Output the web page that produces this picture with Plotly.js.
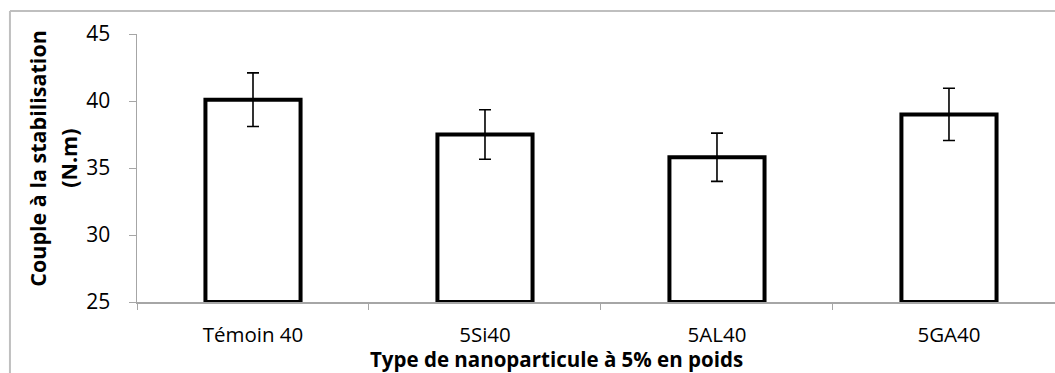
<!DOCTYPE html>
<html>
<head>
<meta charset="utf-8">
<script src="https://cdn.plot.ly/plotly-3.0.1.min.js"></script>
<style>
  html, body { margin: 0; padding: 0; background: #fff; overflow: hidden; }
  #chart { width: 1055px; height: 373px; }
</style>
</head>
<body>
<div id="chart"></div>
<script>
// Torque at stabilisation per nanoparticle type (5 wt%)
const categories = ["Témoin 40", "5Si40", "5AL40", "5GA40"];
const torque = [40.1, 37.5, 35.8, 39.0];
const torqueError = [2.0, 1.85, 1.8, 1.95];
const yTicks = [25, 30, 35, 40, 45];
const axisFloor = 25;

const trace = {
  type: "bar",
  x: categories,
  base: axisFloor,
  y: torque.map(v => v - axisFloor),
  marker: { color: "#ffffff", line: { color: "#000000", width: 4 } },
  error_y: { type: "data", array: torqueError, visible: true,
             color: "#000000", thickness: 1.6, width: 6 },
  hoverinfo: "skip"
};

const font = "'Open Sans', 'Noto Sans', sans-serif";
const frameLine = { color: "#bfbfbf", width: 2 };

const layout = {
  width: 1055, height: 373,
  margin: { l: 137, r: 0, t: 34, b: 71 },
  paper_bgcolor: "#ffffff", plot_bgcolor: "#ffffff",
  showlegend: false,
  bargap: 0.59,
  font: { family: font, color: "#000000", size: 21 },
  xaxis: {
    type: "category",
    range: [-0.5, 3.457],
    showline: true, linecolor: "#a6a6a6", linewidth: 1.5,
    ticks: "outside", tickson: "boundaries", ticklen: 6, tickcolor: "#a6a6a6",
    showgrid: false, zeroline: false,
    tickfont: { family: font, size: 20.5, color: "#000" },
    ticklabelstandoff: 14
  },
  yaxis: {
    range: [25, 45],
    tickvals: yTicks,
    showline: true, linecolor: "#a6a6a6", linewidth: 1.5,
    ticks: "outside", ticklen: 7, tickcolor: "#a6a6a6",
    showgrid: false, zeroline: false,
    tickfont: { family: font, size: 21, color: "#000" },
    ticklabelstandoff: 14
  },
  // chart-area border: top and left edges
  shapes: [
    { type: "line", xref: "paper", yref: "paper",
      x0: -0.1384, x1: 1.1, y0: 1.0858, y1: 1.0858, line: frameLine, layer: "below" },
    { type: "line", xref: "paper", yref: "paper",
      x0: -0.1384, x1: -0.1384, y0: 1.0858, y1: -0.3, line: frameLine, layer: "below" }
  ],
  annotations: [
    {
      text: "<b>Type de nanoparticule à 5% en poids</b>",
      xref: "paper", yref: "paper", x: 0.4575, y: -0.2127,
      xanchor: "center", yanchor: "middle", showarrow: false,
      font: { family: font, size: 20.5, color: "#000" }
    },
    {
      text: "<b>Couple à la stabilisation</b>",
      xref: "paper", yref: "paper", x: -0.1093, y: 0.537,
      xanchor: "center", yanchor: "middle", showarrow: false, textangle: -90,
      font: { family: font, size: 21.5, color: "#000" }
    },
    {
      text: "<b>(N.m)</b>",
      xref: "paper", yref: "paper", x: -0.0755, y: 0.537,
      xanchor: "center", yanchor: "middle", showarrow: false, textangle: -90,
      font: { family: font, size: 21.5, color: "#000" }
    }
  ]
};

Plotly.newPlot("chart", [trace], layout, { displayModeBar: false, staticPlot: true });
</script>
</body>
</html>
